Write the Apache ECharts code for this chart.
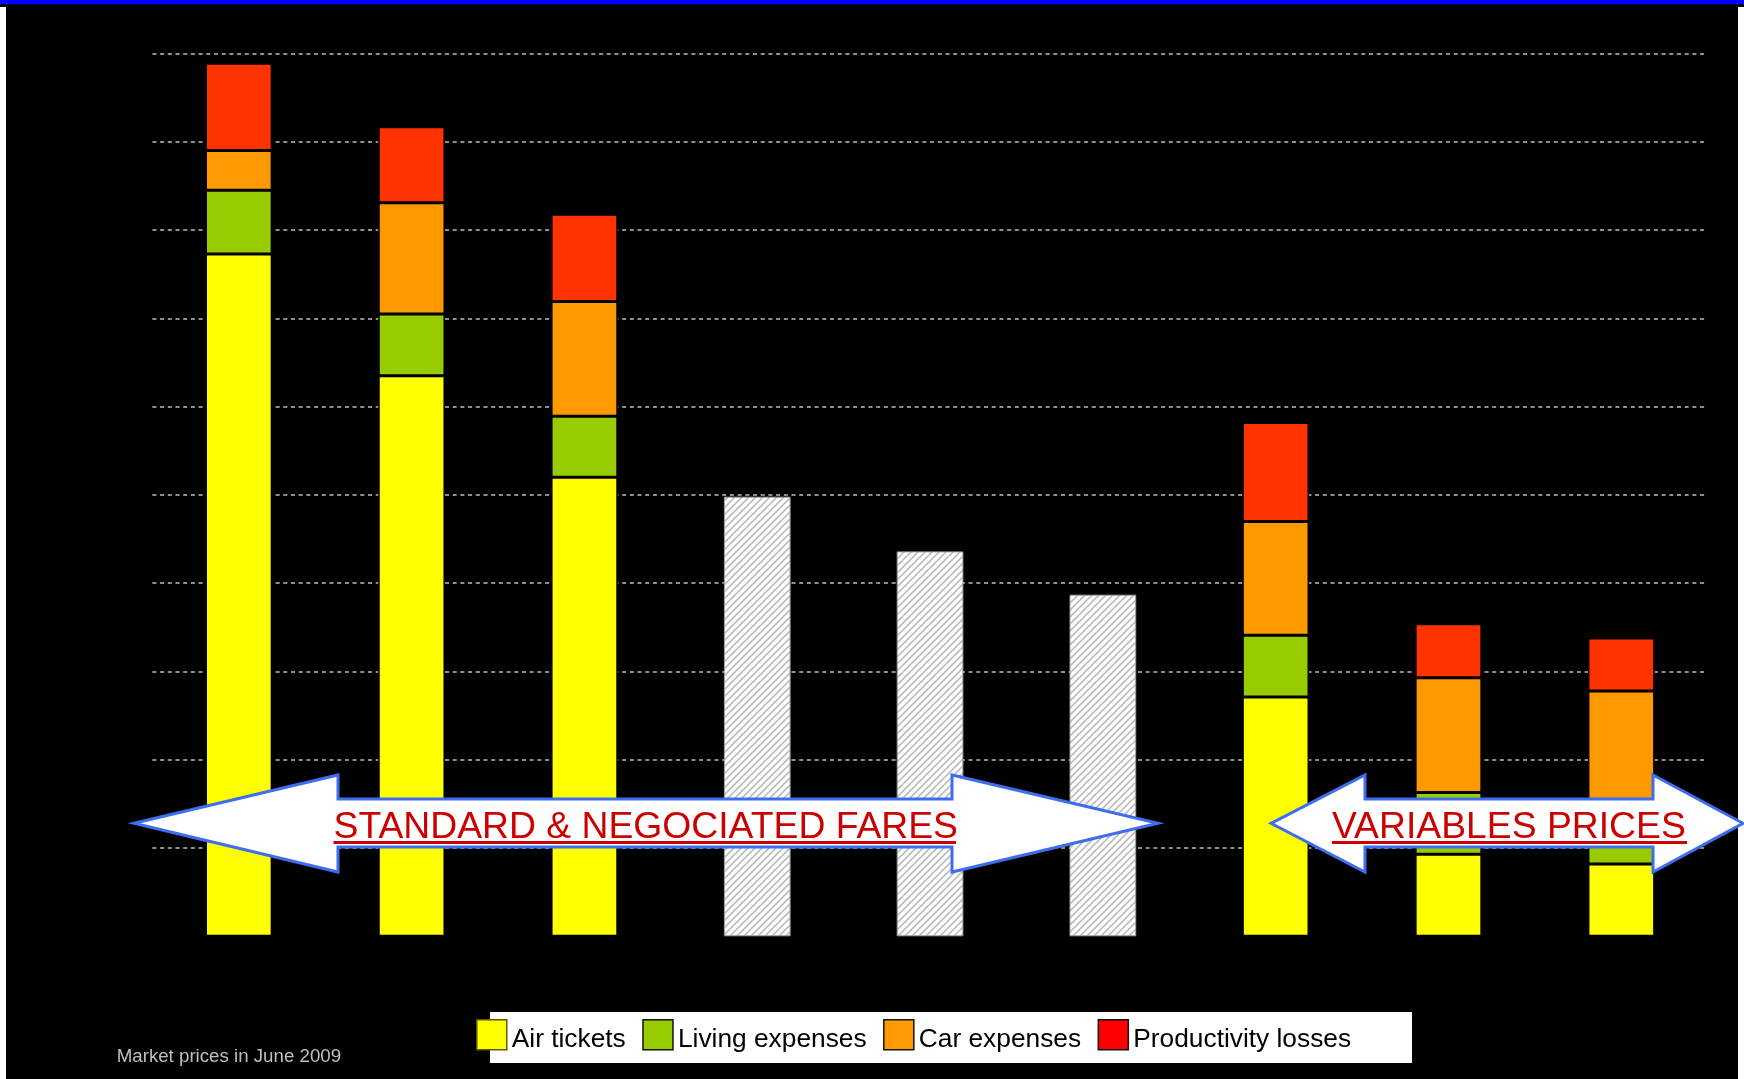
<!DOCTYPE html>
<html>
<head>
<meta charset="utf-8">
<style>
  html, body { margin: 0; padding: 0; background: #000; }
  #chart { width: 1744px; height: 1079px; }
</style>
<script src="https://cdn.jsdelivr.net/npm/echarts@6/dist/echarts.min.js"></script>
</head>
<body>
<div id="chart"></div>
<script>
// ---- Data (axis units 0..10) ----
const categories = ['1', '2', '3', '4', '5', '6', '7', '8', '9'];
const airTickets         = [7.73, 6.35, 5.20, null, null, null, 2.71, 0.93, 0.82];
const livingExpenses     = [0.72, 0.70, 0.69, null, null, null, 0.70, 0.70, 0.70];
const carExpenses        = [0.45, 1.26, 1.30, null, null, null, 1.29, 1.30, 1.26];
const productivityLosses = [0.99, 0.86, 0.99, null, null, null, 1.12, 0.61, 0.60];
const otherFares         = [null, null, null, 4.98, 4.36, 3.87, null, null, null];
const legendNames = ['Air tickets', 'Living expenses', 'Car expenses', 'Productivity losses'];
const arrowLabels = ['STANDARD & NEGOCIATED FARES', 'VARIABLES PRICES'];
const footnote = 'Market prices in June 2009';

const FONT = '"Liberation Sans", Arial, sans-serif';

// hatch pattern for the grey bars
const hatch = document.createElement('canvas');
hatch.width = 7; hatch.height = 7;
(function () {
  const g = hatch.getContext('2d');
  g.fillStyle = '#ffffff';
  g.fillRect(0, 0, 7, 7);
  g.strokeStyle = '#bdbdbd';
  g.lineWidth = 1.6;
  g.beginPath();
  g.moveTo(-1, 8); g.lineTo(8, -1);
  g.moveTo(-4.5, 4.5); g.lineTo(4.5, -4.5);
  g.moveTo(2.5, 11.5); g.lineTo(11.5, 2.5);
  g.stroke();
})();

const chart = echarts.init(document.getElementById('chart'), null, { renderer: 'canvas' });

function stackSeries(name, data, color) {
  return {
    name: name, type: 'bar', stack: 'total', data: data,
    barWidth: 66.7,
    itemStyle: { color: color, borderColor: '#000', borderWidth: 1.5 },
    emphasis: { disabled: true }
  };
}

function arrowPoints(xl, xhl, xhr, xr, yc, yht, yhb, yst, ysb) {
  return [[xl, yc], [xhl, yht], [xhl, yst], [xhr, yst], [xhr, yht], [xr, yc],
          [xhr, yhb], [xhr, ysb], [xhl, ysb], [xhl, yhb]];
}

const option = {
  backgroundColor: '#000',
  animation: false,
  grid: { left: 152.4, right: 36.3, top: 53.5, bottom: 142.7, containLabel: false },
  xAxis: {
    type: 'category', data: categories,
    axisLine: { show: false }, axisTick: { show: false }, axisLabel: { show: false },
    splitLine: { show: false }
  },
  yAxis: {
    type: 'value', min: 0, max: 10, interval: 1,
    axisLine: { show: false }, axisTick: { show: false }, axisLabel: { show: false },
    splitLine: { show: true, showMinLine: false,
      lineStyle: { color: '#bdbdbd', width: 1.5, type: [4, 3.7] } }
  },
  legend: {
    data: [
      { name: legendNames[0], itemStyle: { color: '#FFFF00', borderColor: '#5a5a00' } },
      { name: legendNames[1], itemStyle: { color: '#99CC00' } },
      { name: legendNames[2], itemStyle: { color: '#FF9900' } },
      { name: legendNames[3], itemStyle: { color: '#FF0000' } }
    ],
    left: 476, top: 1019, padding: 0,
    icon: 'rect', itemWidth: 30, itemHeight: 30, itemGap: 16.5,
    itemStyle: { borderColor: '#111', borderWidth: 1.5 },
    formatter: '{t|{name}}',
    textStyle: {
      color: '#000', fontSize: 26.3, fontFamily: FONT,
      rich: { t: { color: '#000', fontSize: 26.3, fontFamily: FONT, padding: [10, 0, 0, 0] } }
    },
    selectedMode: false, z: 10
  },
  series: [
    stackSeries(legendNames[0], airTickets, '#FFFF00'),
    stackSeries(legendNames[1], livingExpenses, '#99CC00'),
    stackSeries(legendNames[2], carExpenses, '#FF9900'),
    stackSeries(legendNames[3], productivityLosses, '#FF3300'),
    {
      name: 'Other', type: 'bar', stack: 'total', data: otherFares, barWidth: 66.7,
      itemStyle: { color: { image: hatch, repeat: 'repeat' }, borderColor: '#a0a0a0', borderWidth: 1 },
      emphasis: { disabled: true }
    }
  ],
  graphic: [
    { type: 'rect', z: 0, shape: { x: 0, y: 0, width: 1744, height: 4.3 }, style: { fill: '#0000FF' } },
    { type: 'rect', z: 0, shape: { x: 0, y: 7, width: 6, height: 1072 }, style: { fill: '#FFFFFF' } },
    { type: 'rect', z: 0, shape: { x: 1738, y: 7, width: 6, height: 1072 }, style: { fill: '#FFFFFF' } },
    { type: 'rect', z: 1, shape: { x: 490, y: 1012, width: 922, height: 51 }, style: { fill: '#FFFFFF' } },
    { type: 'polygon', z: 100,
      shape: { points: arrowPoints(134, 338, 952, 1158, 823.3, 775, 872, 799, 847) },
      style: { fill: '#FFFFFF', stroke: '#3d6ef0', lineWidth: 3, lineJoin: 'miter' } },
    { type: 'polygon', z: 100,
      shape: { points: arrowPoints(1271, 1365, 1653, 1743, 823.3, 775, 872, 799, 847) },
      style: { fill: '#FFFFFF', stroke: '#3d6ef0', lineWidth: 3, lineJoin: 'miter' } },
    { type: 'text', z: 101, x: 333.5, y: 828,
      style: { text: arrowLabels[0], fill: '#CC0000', font: '37.3px ' + FONT, textAlign: 'left', textVerticalAlign: 'middle' } },
    { type: 'line', z: 101, shape: { x1: 333.5, y1: 842.5, x2: 956, y2: 842.5 }, style: { stroke: '#CC0000', lineWidth: 3 } },
    { type: 'text', z: 101, x: 1332, y: 828,
      style: { text: arrowLabels[1], fill: '#CC0000', font: '37.3px ' + FONT, textAlign: 'left', textVerticalAlign: 'middle' } },
    { type: 'line', z: 101, shape: { x1: 1332, y1: 842.5, x2: 1687, y2: 842.5 }, style: { stroke: '#CC0000', lineWidth: 3 } },
    { type: 'text', z: 5, x: 116.7, y: 1056.5,
      style: { text: footnote, fill: '#bfbfbf', font: '18.7px ' + FONT, textAlign: 'left', textVerticalAlign: 'middle' } }
  ]
};
chart.setOption(option);
</script>
</body>
</html>
